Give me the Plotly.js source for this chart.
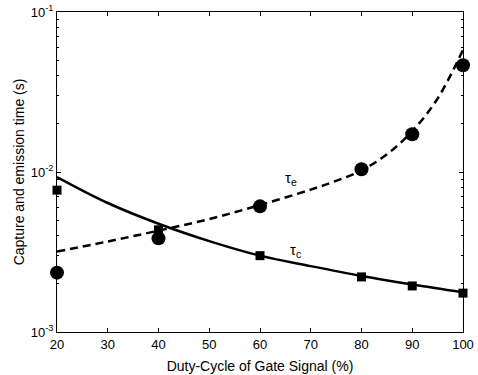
<!DOCTYPE html>
<html>
<head>
<meta charset="utf-8">
<script src="https://cdn.plot.ly/plotly-3.0.1.min.js"></script>
<style>html,body{margin:0;padding:0;background:#fff;}#chart{width:478px;height:375px;}</style>
</head>
<body>
<div id="chart"></div>
<script>
// Measured points
const dutyPts = [20, 40, 60, 80, 90, 100];
const tauC = [7.7e-3, 4.35e-3, 3.0e-3, 2.21e-3, 1.94e-3, 1.75e-3];
const tauE = [2.35e-3, 3.85e-3, 6.1e-3, 1.04e-2, 1.72e-2, 4.65e-2];
// Fitted curves
const fitCx = [20, 30, 40, 50, 60, 70, 80, 90, 100];
const fitC = [9.3e-3, 6.4e-3, 4.75e-3, 3.7e-3, 3.0e-3, 2.58e-3, 2.24e-3, 1.98e-3, 1.77e-3];
const fitEx = [20, 30, 40, 50, 60, 70, 75, 80, 85, 90, 95, 100];
const fitE = [3.18e-3, 3.68e-3, 4.3e-3, 5.08e-3, 6.22e-3, 7.76e-3, 8.81e-3, 1.023e-2, 1.29e-2, 1.8e-2, 2.88e-2, 5.8e-2];
const xTicks = [20, 30, 40, 50, 60, 70, 80, 90, 100];
const yTicks = [1e-3, 1e-2, 1e-1];
const yTickText = ['10<sup>-3</sup>', '10<sup>-2</sup>', '10<sup>-1</sup>'];
const yMinor = [2e-3, 3e-3, 4e-3, 5e-3, 6e-3, 7e-3, 8e-3, 9e-3, 2e-2, 3e-2, 4e-2, 5e-2, 6e-2, 7e-2, 8e-2, 9e-2];

const traces = [
  {x: fitCx, y: fitC, mode: 'lines', line: {color: '#000', width: 2.5, shape: 'spline'}, hoverinfo: 'skip'},
  {x: fitEx, y: fitE, mode: 'lines', line: {color: '#000', width: 2.5, dash: '8px,5px', shape: 'spline'}, hoverinfo: 'skip'},
  {x: dutyPts, y: tauC, mode: 'markers', marker: {symbol: 'square', size: 9, color: '#000'}, cliponaxis: false},
  {x: dutyPts, y: tauE, mode: 'markers', marker: {symbol: 'circle', size: 14, color: '#000'}, cliponaxis: false}
];

const font = {family: 'Liberation Sans, Arial, sans-serif', color: '#000', size: 13};
const layout = {
  width: 478, height: 375,
  margin: {l: 57, r: 15, t: 12, b: 43},
  paper_bgcolor: '#fff', plot_bgcolor: '#fff',
  showlegend: false,
  font: font,
  xaxis: {
    range: [20, 100], tickvals: xTicks, ticks: 'inside', ticklen: 4, tickcolor: '#000',
    showline: true, linecolor: '#000', linewidth: 1, mirror: 'ticks', showgrid: false, zeroline: false,
    tickfont: {size: 13},
    title: {text: 'Duty-Cycle of Gate Signal (%)', font: {size: 14}, standoff: 10}
  },
  yaxis: {
    type: 'log', range: [-3, -1], tickvals: yTicks, ticktext: yTickText, ticks: 'inside', ticklen: 4, tickcolor: '#000',
    showline: true, linecolor: '#000', linewidth: 1, mirror: 'ticks', showgrid: false, zeroline: false,
    tickfont: {size: 13},
    minor: {ticks: 'inside', ticklen: 2, tickcolor: '#000', tickvals: yMinor, showgrid: false},
    title: {text: 'Capture and emission time (s)', font: {size: 14}, standoff: 2}
  },
  annotations: [
    {x: 66.1, y: -2.0375, xref: 'x', yref: 'y', text: 'τ<sub>e</sub>', showarrow: false, font: {size: 15}},
    {x: 66.9, y: -2.4875, xref: 'x', yref: 'y', text: 'τ<sub>c</sub>', showarrow: false, font: {size: 15}}
  ]
};

Plotly.newPlot('chart', traces, layout, {displayModeBar: false, staticPlot: true});
</script>
</body>
</html>
